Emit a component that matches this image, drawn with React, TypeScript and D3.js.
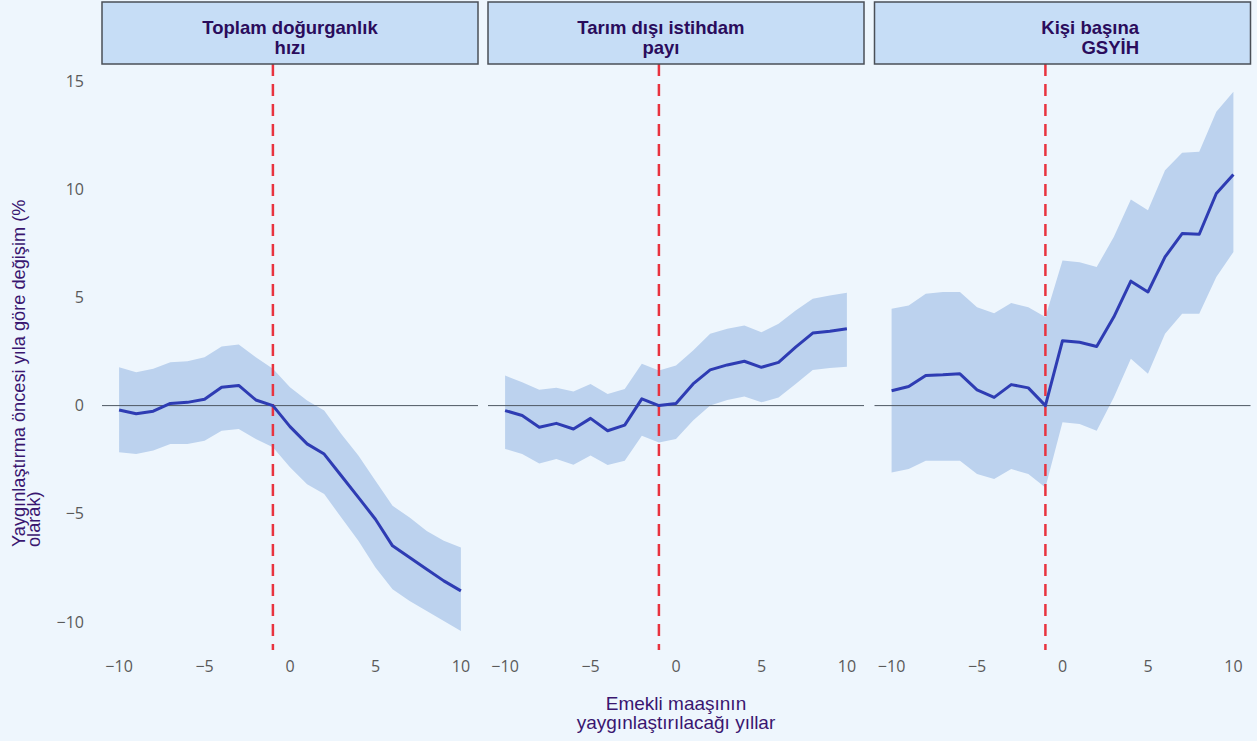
import React from "react";
import * as d3 from "d3";

// Event-time axis: years relative to the pension roll-out
const years = d3.range(-10, 11);

// Panel titles (two lines each)
const panelTitles: string[][] = [
  ["Toplam doğurganlık", "hızı"],
  ["Tarım dışı istihdam", "payı"],
  ["Kişi başına", "GSYİH"],
];

// Total fertility rate
const fertEst = [-0.2, -0.38, -0.26, 0.1, 0.15, 0.29, 0.85, 0.93, 0.26, 0, -0.97, -1.77, -2.24, -3.24, -4.24, -5.25, -6.48, -7.02, -7.56, -8.1, -8.56];
const fertHi = [1.77, 1.54, 1.7, 2.0, 2.05, 2.24, 2.73, 2.82, 2.24, 1.7, 0.85, 0.23, -0.23, -1.31, -2.31, -3.47, -4.63, -5.17, -5.79, -6.25, -6.56];
const fertLo = [-2.16, -2.24, -2.08, -1.77, -1.77, -1.62, -1.16, -1.08, -1.54, -1.93, -2.85, -3.63, -4.09, -5.17, -6.25, -7.48, -8.49, -9.03, -9.49, -9.95, -10.42];

// Non-agricultural employment share
const empEst = [-0.23, -0.46, -1.0, -0.82, -1.08, -0.59, -1.16, -0.9, 0.31, 0, 0.1, 1.0, 1.65, 1.88, 2.05, 1.77, 2.0, 2.7, 3.35, 3.44, 3.55];
const empHi = [1.39, 1.08, 0.73, 0.82, 0.65, 1.0, 0.54, 0.77, 1.93, 1.62, 1.85, 2.55, 3.32, 3.55, 3.7, 3.39, 3.78, 4.4, 4.94, 5.09, 5.22];
const empLo = [-2.0, -2.24, -2.67, -2.47, -2.73, -2.31, -2.75, -2.55, -1.39, -1.7, -1.54, -0.69, 0.0, 0.26, 0.42, 0.15, 0.38, 1.0, 1.65, 1.74, 1.8];

// GDP per capita
const gdpEst = [0.69, 0.88, 1.39, 1.42, 1.47, 0.73, 0.38, 0.97, 0.82, 0, 3.0, 2.93, 2.73, 4.09, 5.75, 5.25, 6.87, 7.95, 7.92, 9.8, 10.68];
const gdpHi = [4.47, 4.63, 5.17, 5.25, 5.25, 4.55, 4.27, 4.74, 4.55, 4.09, 6.71, 6.63, 6.4, 7.79, 9.52, 9.03, 10.88, 11.68, 11.73, 13.58, 14.5];
const gdpLo = [-3.09, -2.93, -2.55, -2.55, -2.55, -3.16, -3.39, -2.93, -3.16, -3.78, -0.77, -0.85, -1.16, 0.38, 2.16, 1.47, 3.32, 4.24, 4.24, 5.94, 7.1];

const xTicks = [-10, -5, 0, 5, 10];
const yTicks = [-10, -5, 0, 5, 10, 15];
const eventYear = -1;

const yAxisTitle = ["Yaygınlaştırma öncesi yıla göre değişim (%", "olarak)"];
const xAxisTitle = ["Emekli maaşının", "yaygınlaştırılacağı yıllar"];

const panels = [
  { title: panelTitles[0], est: fertEst, hi: fertHi, lo: fertLo },
  { title: panelTitles[1], est: empEst, hi: empHi, lo: empLo },
  { title: panelTitles[2], est: gdpEst, hi: gdpHi, lo: gdpLo },
];

const W = 1257;
const H = 741;
const panelLeft = [102, 488, 874.5];
const panelW = 376;
const stripTop = 2;
const stripBottom = 64;
const plotBottom = 650;

// title alignment inside each strip
const titleAnchor: { x: number; anchor: "middle" | "end" }[] = [
  { x: 0.5, anchor: "middle" },
  { x: 0.46, anchor: "middle" },
  { x: 0.7035, anchor: "end" },
];

const BG = "#EEF6FD";
const TXT = "#3A1670";
const fmt = d3.format("d");

export default function App() {
  const y = d3.scaleLinear().domain([-10, 15]).range([622, 81]);

  return (
    <svg
      width={W}
      height={H}
      style={{ position: "absolute", left: 0, top: 0, display: "block" }}
      fontFamily="'Liberation Sans', Arial, sans-serif"
    >
      <rect x={0} y={0} width={W} height={H} fill={BG} />

      {panels.map((p, i) => {
        const left = panelLeft[i];
        const x = d3.scaleLinear().domain([-11, 11]).range([left, left + panelW]);
        const area = d3
          .area<number>()
          .x((_, j) => x(years[j]))
          .y0((_, j) => y(p.lo[j]))
          .y1((_, j) => y(p.hi[j]));
        const line = d3
          .line<number>()
          .x((_, j) => x(years[j]))
          .y((d) => y(d));
        const ta = titleAnchor[i];
        return (
          <g key={i}>
            <path d={area(p.est) ?? ""} fill="#BCD2EE" />
            <line x1={left} x2={left + panelW} y1={y(0)} y2={y(0)} stroke="#4E5863" strokeWidth={1} />
            <line
              x1={x(eventYear)}
              x2={x(eventYear)}
              y1={stripBottom}
              y2={plotBottom}
              stroke="#E8333F"
              strokeWidth={2.5}
              strokeDasharray="12,8"
            />
            <path d={line(p.est) ?? ""} fill="none" stroke="#2E3CB3" strokeWidth={3} strokeLinejoin="round" />

            {/* strip header */}
            <rect
              x={left}
              y={stripTop}
              width={panelW}
              height={stripBottom - stripTop}
              fill="#C6DDF6"
              stroke="#4A4F57"
              strokeWidth={1.5}
            />
            {p.title.map((t, k) => (
              <text
                key={k}
                x={left + panelW * ta.x}
                y={34 + k * 19.5}
                textAnchor={ta.anchor}
                fontSize={18.5}
                fontWeight="bold"
                fill="#2A0C5C"
              >
                {t}
              </text>
            ))}

            {xTicks.map((t) => (
              <text
                key={t}
                x={x(t)}
                y={672}
                textAnchor="middle"
                fontSize={16}
                fontFamily="'Open Sans', sans-serif"
                fill="#5A5A5A"
              >
                {fmt(t)}
              </text>
            ))}
          </g>
        );
      })}

      {yTicks.map((t) => (
        <text
          key={t}
          x={84}
          y={y(t)}
          dy="0.35em"
          textAnchor="end"
          fontSize={16}
          fontFamily="'Open Sans', sans-serif"
          fill="#5A5A5A"
        >
          {fmt(t)}
        </text>
      ))}

      {yAxisTitle.map((t, k) => (
        <text
          key={k}
          transform={`translate(${25 + k * 15},547) rotate(-90)`}
          textAnchor="start"
          fontSize={18.2}
          fill={TXT}
        >
          {t}
        </text>
      ))}

      {xAxisTitle.map((t, k) => (
        <text key={k} x={676} y={710 + k * 18.5} textAnchor="middle" fontSize={19} fill={TXT}>
          {t}
        </text>
      ))}
    </svg>
  );
}
